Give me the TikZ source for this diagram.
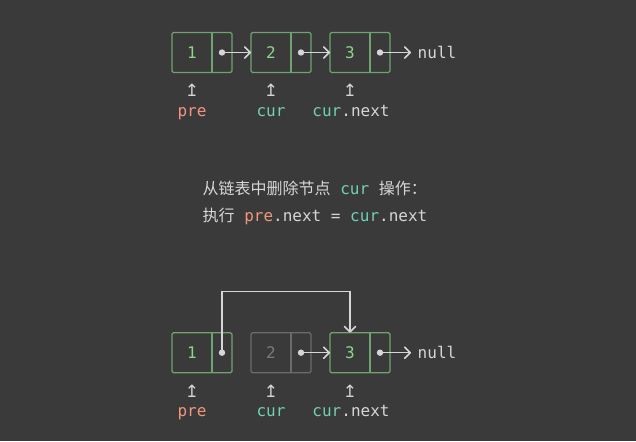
\documentclass[tikz,border=0pt]{standalone}
\usepackage{fontspec}
\setmonofont{DejaVu Sans Mono}
\newfontfamily\cjk{Noto Sans CJK SC}
\newfontfamily\arrowfont{DejaVu Sans}
\usetikzlibrary{positioning,arrows.meta}
\definecolor{bg}{HTML}{3A3A3A}
\definecolor{boxgreen}{HTML}{6FA36F}
\definecolor{numgreen}{HTML}{8CD68C}
\definecolor{presalmon}{HTML}{F0977E}
\definecolor{curteal}{HTML}{6FD0B4}
\definecolor{linegray}{HTML}{D6D6D6}
\definecolor{deadgray}{HTML}{6B6B6B}
\definecolor{deadtext}{HTML}{7A7A7A}
\newcommand{\prevar}{\textcolor{presalmon}{pre}}
\newcommand{\curvar}{\textcolor{curteal}{cur}}
\newcommand{\uparr}{{\arrowfont\fontsize{17}{19}\selectfont ↥}}
\tikzset{
  val/.style={rectangle, minimum width=40pt, minimum height=40pt, inner sep=0pt, outer sep=0pt, text=numgreen},
  ptr/.style={rectangle, minimum width=20pt, minimum height=40pt, inner sep=0pt, outer sep=0pt},
  frame/.style={draw=boxgreen, rounded corners=1.5pt},
  link/.style={draw=linegray, line width=1.6pt, -{Straight Barb[round, length=5.5pt, width=11pt]}},
  tag/.style={text=linegray, inner sep=0pt},
}
\begin{document}
\begin{tikzpicture}[x=1pt, y=1pt, line width=1.3pt, font=\ttfamily\fontsize{16}{19}\selectfont]
    \fill[bg] (0,0) rectangle (636,441);
    \useasboundingbox (0,0) rectangle (636,441);
    % before
    \node[val] (n1) at (192,388.5) {1};
    \node[ptr, right=0pt of n1] (p1) {};
    \node[val] (n2) at (271,388.5) {2};
    \node[ptr, right=0pt of n2] (p2) {};
    \node[val] (n3) at (350,388.5) {3};
    \node[ptr, right=0pt of n3] (p3) {};
    \node[tag] (null1) at (437,388.5) {null};
    % after
    \node[val] (m1) at (192,88.3) {1};
    \node[ptr, right=0pt of m1] (q1) {};
    \node[val, text=deadtext] (m2) at (271,88.3) {2};
    \node[ptr, right=0pt of m2] (q2) {};
    \node[val] (m3) at (350,88.3) {3};
    \node[ptr, right=0pt of m3] (q3) {};
    \node[tag] (null2) at (437,88.3) {null};
    \foreach \v/\p/\c in {n1/p1/boxgreen, n2/p2/boxgreen, n3/p3/boxgreen, m1/q1/boxgreen, m2/q2/deadgray, m3/q3/boxgreen} {
        \draw[frame, draw=\c] (\v.north west) rectangle (\p.south east);
        \draw[draw=\c] (\p.north west) -- (\p.south west);
        \fill[linegray] (\p.center) circle (3.2);
    }
    \draw[link] (p1.center) -- (n2.west);
    \draw[link] (p2.center) -- (n3.west);
    \draw[link] (p3.center) -- ([xshift=-6pt]null1.west);
    \node[tag] (u1) at (192,350.5) {\uparr};
    \node[tag] (u2) at (271,350.5) {\uparr};
    \node[tag] (u3) at (350,350.5) {\uparr};
    \node[tag, anchor=base] (l1) at (192,324.5) {\prevar};
    \node[tag, anchor=base] (l2) at (271,324.5) {\curvar};
    \node[tag, anchor=base] (l3) at (351,324.5) {\curvar.next};
    % text
    \node[tag, anchor=west] (t1) at (202,253) {{\cjk 从链表中删除节点} \curvar{} {\cjk 操作：}};
    \node[tag, anchor=west] (t2) at (202,225) {{\cjk 执行} \prevar.next = \curvar.next};
    % bypass
    \coordinate (detour) at (350,149.3);
    \draw[link] (q1.center) |- (detour) -- (m3.north);
    \draw[link] (q2.center) -- (m3.west);
    \draw[link] (q3.center) -- ([xshift=-6pt]null2.west);
    \node[tag] (v1) at (192,49.5) {\uparr};
    \node[tag] (v2) at (271,49.5) {\uparr};
    \node[tag] (v3) at (350,49.5) {\uparr};
    \node[tag, anchor=base] (k1) at (192,24.3) {\prevar};
    \node[tag, anchor=base] (k2) at (271,24.3) {\curvar};
    \node[tag, anchor=base] (k3) at (351,24.3) {\curvar.next};
\end{tikzpicture}
\end{document}
